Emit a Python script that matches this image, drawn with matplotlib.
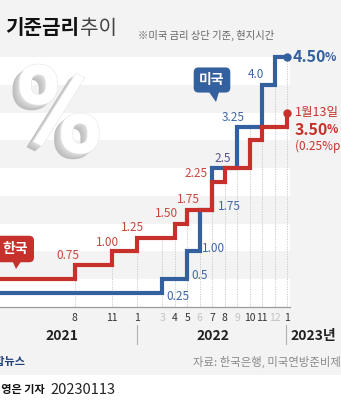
import matplotlib
matplotlib.use("Agg")
import matplotlib.pyplot as plt
from matplotlib import patheffects as pe
from matplotlib.patches import Polygon, Rectangle

plt.rcParams["font.family"] = ["Noto Sans CJK KR", "DejaVu Sans"]

# ---- data -------------------------------------------------------------
kr_start = 0.50
kr_months = ["2021-08", "2021-11", "2022-01", "2022-04", "2022-05",
             "2022-07", "2022-08", "2022-10", "2022-11", "2023-01"]
kr_rates = [0.75, 1.00, 1.25, 1.50, 1.75, 2.25, 2.50, 3.00, 3.25, 3.50]

us_start = 0.25
us_months = ["2022-03", "2022-05", "2022-06", "2022-07",
             "2022-09", "2022-11", "2022-12"]
us_rates = [0.50, 1.00, 1.75, 2.50, 3.25, 4.00, 4.50]
last_month = "2023-01"

tick_months = ["2021-08", "2021-11", "2022-01", "2022-03", "2022-04",
               "2022-05", "2022-06", "2022-07", "2022-08", "2022-09",
               "2022-10", "2022-11", "2022-12", "2023-01"]
tick_labels = ["8", "11", "1", "3", "4", "5", "6", "7", "8", "9",
               "10", "11", "12", "1"]
year_labels = ["2021", "2022", "2023년"]

# value labels: (text, rate, month the label sits beside, pixel offset)
us_value_labels = [("0.25", 0.25, "2022-03", (16, -3)),
                   ("0.5", 0.50, "2022-05", (12, 4)),
                   ("1.00", 1.00, "2022-06", (14, 3)),
                   ("1.75", 1.75, "2022-07", (17, 3)),
                   ("3.25", 3.25, "2022-11", (-29, 9)),
                   ("4.0", 4.00, "2022-12", (-19, 10))]
kr_value_labels = [("0.75", 0.75, "2021-08", (-7, 10)),
                   ("1.00", 1.00, "2021-11", (-5, 9)),
                   ("1.25", 1.25, "2022-01", (-5, 10)),
                   ("1.50", 1.50, "2022-04", (-8, 10)),
                   ("1.75", 1.75, "2022-05", (1, 10)),
                   ("2.25", 2.25, "2022-07", (-16, 9))]
shared_label = ("2.5", 2.50, "2022-09", (-14, 10))

BLUE = "#33609e"
RED = "#c7312b"
BLUE_TXT = "#3d67a6"
RED_TXT = "#c9463e"

W, H = 341, 400


def fx(px):
    return px / W


def fy(py):
    return 1 - py / H


def mi(s):
    y, m = map(int, s.split("-"))
    return (y - 2021) * 12 + m - 8


def level(months, rates, start, t):
    r = start
    for m, v in zip(months, rates):
        if mi(m) <= t:
            r = v
    return r


# ---- figure -----------------------------------------------------------
fig = plt.figure(figsize=(W / 100, H / 100), dpi=100, facecolor="#f3f3f3")
fig.patches.append(Rectangle((0, 0), 1, fy(375), transform=fig.transFigure,
                             facecolor="white", edgecolor="none", zorder=0))

ax = fig.add_axes([0, fy(307), fx(290), 307 / H])
ax.set_facecolor("none")
ax.set_xlim(-6.0, 17.24)
ax.set_ylim(0, 5.53)

# alternating bands every 0.5%p
for lo in [0.0, 1.0, 2.0, 3.0, 4.0]:
    ax.axhspan(lo, lo + 0.5, color="white", zorder=0, lw=0)

# dotted month guides up to the highest line
for m in tick_months:
    t = mi(m)
    top = max(level(kr_months, kr_rates, kr_start, t),
              level(us_months, us_rates, us_start, t))
    ax.plot([t, t], [0, top], color="#c4c4c4", lw=0.6, ls=(0, (1.5, 1.5)),
            zorder=1)

x_left = ax.get_xlim()[0]
us_x = [x_left] + [mi(m) for m in us_months] + [mi(last_month)]
us_y = [us_start] + us_rates + [us_rates[-1]]
kr_x = [x_left] + [mi(m) for m in kr_months]
kr_y = [kr_start] + kr_rates

ax.step(us_x, us_y, where="post", color=BLUE, lw=3,
        solid_joinstyle="miter", solid_capstyle="butt", zorder=3,
        clip_on=False)
ax.step(kr_x, kr_y, where="post", color=RED, lw=3,
        solid_joinstyle="miter", solid_capstyle="butt", zorder=4,
        clip_on=False)
ax.plot(mi(last_month), us_rates[-1], "o", color=BLUE, ms=5, zorder=5,
        clip_on=False)
ax.plot(mi(kr_months[-1]), kr_rates[-1], "o", color=RED, ms=5, zorder=5,
        clip_on=False)

lab_kw = dict(textcoords="offset pixels", ha="center", va="center",
              fontsize=8.5, fontweight="light", zorder=6,
              annotation_clip=False)
for txt, r, m, off in us_value_labels:
    ax.annotate(txt, xy=(mi(m), r), xytext=off, color=BLUE_TXT, **lab_kw)
for txt, r, m, off in kr_value_labels:
    ax.annotate(txt, xy=(mi(m), r), xytext=off, color=RED_TXT, **lab_kw)
txt, r, m, off = shared_label
ax.annotate(txt, xy=(mi(m), r), xytext=off, color="#55508c", **lab_kw)

# end-of-line callouts
t_end = mi(last_month)
us_big = ax.annotate(f"{us_rates[-1]:.2f}", xy=(t_end, us_rates[-1]),
                     xytext=(6, 0), textcoords="offset pixels", ha="left",
                     va="center", fontsize=11.5, fontweight="bold",
                     color=BLUE, annotation_clip=False)
ax.annotate("%", xy=(1, 0.08), xycoords=us_big, xytext=(-1.5, 0),
            textcoords="offset pixels", ha="left", va="bottom",
            fontsize=8.5, fontweight="bold", color=BLUE)

ax.annotate("1월13일", xy=(t_end, kr_rates[-1]), xytext=(8, 0),
            textcoords="offset pixels", ha="left", va="center",
            fontsize=9, color=RED, annotation_clip=False)
kr_big = ax.annotate(f"{kr_rates[-1]:.2f}", xy=(t_end, kr_rates[-1]),
                     xytext=(8, -17), textcoords="offset pixels", ha="left",
                     va="center", fontsize=11.5, fontweight="bold",
                     color=RED, annotation_clip=False)
ax.annotate("%", xy=(1, 0.08), xycoords=kr_big, xytext=(-1.5, 0),
            textcoords="offset pixels", ha="left", va="bottom",
            fontsize=8.5, fontweight="bold", color=RED)
ax.annotate(f"({kr_rates[-1] - kr_rates[-2]:.2f}%p 인상)",
            xy=(t_end, kr_rates[-1]), xytext=(8, -34),
            textcoords="offset pixels", ha="left", va="center",
            fontsize=8.5, color=RED, annotation_clip=False)

# axis styling
for s in ["top", "right", "left"]:
    ax.spines[s].set_visible(False)
ax.spines["bottom"].set_color("#9c9c9c")
ax.spines["bottom"].set_linewidth(0.9)
ax.set_yticks([])
ax.set_xticks([mi(m) for m in tick_months])
ax.set_xticklabels(tick_labels, fontsize=7.5)
ax.tick_params(axis="x", length=0, pad=4.5)
for m, lab in zip(tick_months, ax.get_xticklabels()):
    lab.set_color("#333333" if m in kr_months else "#c2c2c2")

# year row
fig.text(fx(62), fy(336), year_labels[0], ha="center", va="center",
         fontsize=10, fontweight="bold", color="#222222")
fig.text(fx(213), fy(336), year_labels[1], ha="center", va="center",
         fontsize=10, fontweight="bold", color="#222222")
fig.text(fx(290), fy(336), year_labels[2], ha="left", va="center",
         fontsize=10, fontweight="bold", color="#222222")
for px in [137, 286]:
    fig.add_artist(plt.Line2D([fx(px), fx(px)], [fy(325), fy(344)],
                              transform=fig.transFigure, color="#b0b0b0",
                              lw=0.8))

# country tags
fig.text(fx(212), fy(80), "미국", ha="center", va="center", fontsize=10,
         fontweight="bold", color="white",
         bbox=dict(boxstyle="round,pad=0.4,rounding_size=0.35", fc=BLUE,
                   ec="none"))
fig.add_artist(Polygon([(fx(209), fy(92)), (fx(219), fy(92)),
                        (fx(216), fy(102))], closed=True,
                       transform=fig.transFigure, fc=BLUE, ec="none"))
fig.text(fx(15), fy(249), "한국", ha="center", va="center", fontsize=10,
         fontweight="bold", color="white",
         bbox=dict(boxstyle="round,pad=0.45,rounding_size=0.35", fc=RED,
                   ec="none"))
fig.add_artist(Polygon([(fx(12), fy(260)), (fx(22), fy(260)),
                        (fx(16), fy(269))], closed=True,
                       transform=fig.transFigure, fc=RED, ec="none"))

# decorative extruded percent sign
depth = [((-5, -4), "#bdbdbd"), ((-4, -3.2), "#c4c4c4"),
         ((-3, -2.4), "#cbcbcb"), ((-2, -1.6), "#d3d3d3"),
         ((-1, -0.8), "#dcdcdc")]
effects = [pe.SimplePatchShadow(offset=o, shadow_rgbFace=c, alpha=1.0)
           for o, c in depth]
effects += [pe.Stroke(linewidth=0.8, foreground="#e4e4e4"), pe.Normal()]
fig.text(fx(59), fy(119), "%", ha="center", va="center", fontsize=88,
         fontweight="bold", family=["Roboto", "DejaVu Sans"], color="white",
         path_effects=effects)

# title
fig.text(fx(5), fy(28), "기준금리", ha="left", va="center",
         fontsize=14.5, fontweight="bold", color="#111111")
fig.text(fx(80), fy(28), "추이", ha="left", va="center", fontsize=14.5,
         fontweight="light", color="#444444")
fig.text(fx(138), fy(35), "※미국 금리 상단 기준, 현지시간", ha="left",
         va="center", fontsize=7.4, color="#666666")

# footer
fig.text(fx(25), fy(362), "연합뉴스", ha="right", va="center", fontsize=8,
         fontweight="bold", color="#1d3f7a")
fig.text(fx(193), fy(362), "자료: 한국은행, 미국연방준비제도", ha="left",
         va="center", fontsize=8.2, color="#8a8a8a")
fig.text(fx(45), fy(390), "김영은 기자", ha="right", va="center",
         fontsize=8, fontweight="bold", color="#111111")
fig.text(fx(50), fy(390), "20230113", ha="left", va="center",
         fontsize=10.5, color="#222222")

fig.savefig("out.png", dpi=100, facecolor=fig.get_facecolor())
